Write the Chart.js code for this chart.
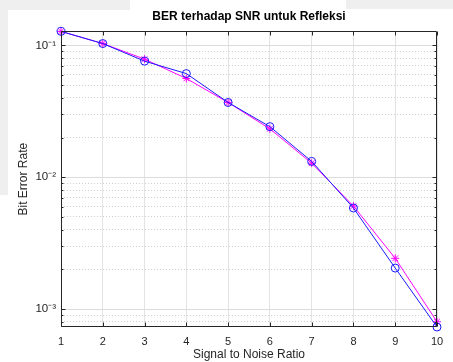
<!DOCTYPE html>
<html>
<head>
<meta charset="utf-8">
<script src="https://cdn.jsdelivr.net/npm/chart.js@4"></script>
<style>
  html, body { margin: 0; padding: 0; background: #fff; }
  #wrap { position: relative; width: 453px; height: 362px; }
  .patch { position: absolute; background: #efefef; }
  canvas { position: absolute; left: 0; top: 0; }
</style>
</head>
<body>
<div id="wrap">
  <div class="patch" style="left:0;top:0;width:130px;height:10px"></div>
  <div class="patch" style="left:0;top:0;width:8px;height:195px"></div>
  <div class="patch" style="left:346px;top:0;width:107px;height:9px"></div>
  <canvas id="c" width="453" height="362"></canvas>
</div>
<script>
// data
let snr = [1, 2, 3, 4, 5, 6, 7, 8, 9, 10];
let berBlue = [0.1276, 0.1032, 0.0759, 0.0611, 0.0369, 0.0242, 0.0132, 0.00585, 0.00205, 0.000733];
let berMagenta = [0.1276, 0.1032, 0.0786, 0.0561, 0.0369, 0.0233, 0.0128, 0.00605, 0.00243, 0.000803];

let yMin = 0.000733;
let yMax = 0.1276;
let majorTicks = [0.001, 0.01, 0.1];
let minorTicks = [0.0008, 0.0009,
  0.002, 0.003, 0.004, 0.005, 0.006, 0.007, 0.008, 0.009,
  0.02, 0.03, 0.04, 0.05, 0.06, 0.07, 0.08, 0.09];
let supers = { '-1': '⁻¹', '-2': '⁻²', '-3': '⁻³' };

let axisColor = '#262626';
let fontFam = "'Liberation Sans', Arial, sans-serif";

// box + inward ticks like matlab
let frame = {
  id: 'frame',
  afterDraw(chart) {
    let ctx = chart.ctx, a = chart.chartArea;
    let l = Math.round(a.left) + 0.5, r = Math.round(a.right) - 0.5;
    let t = Math.round(a.top) + 0.5, b = Math.round(a.bottom) - 0.5;
    ctx.save();
    ctx.strokeStyle = axisColor;
    ctx.lineWidth = 1;
    ctx.beginPath();
    chart.scales.x.ticks.forEach(tk => {
      let px = Math.round(chart.scales.x.getPixelForValue(tk.value)) + 0.5;
      ctx.moveTo(px, b); ctx.lineTo(px, b - 4);
      ctx.moveTo(px, t); ctx.lineTo(px, t + 4);
    });
    majorTicks.forEach(v => {
      let py = Math.round(chart.scales.y.getPixelForValue(v)) + 0.5;
      ctx.moveTo(l, py); ctx.lineTo(l + 4, py);
      ctx.moveTo(r, py); ctx.lineTo(r - 4, py);
    });
    minorTicks.forEach(v => {
      let py = Math.round(chart.scales.y.getPixelForValue(v)) + 0.5;
      ctx.moveTo(l, py); ctx.lineTo(l + 2, py);
      ctx.moveTo(r, py); ctx.lineTo(r - 2, py);
    });
    ctx.rect(l, t, r - l, b - t);
    ctx.stroke();
    ctx.restore();
  }
};

new Chart(document.getElementById('c'), {
  type: 'line',
  data: {
    labels: snr,
    datasets: [
      {
        data: berBlue,
        borderColor: '#1a1aff',
        borderWidth: 1,
        pointStyle: 'circle',
        pointRadius: 4,
        pointBorderColor: '#1a1aff',
        pointBackgroundColor: 'rgba(0,0,0,0)',
        pointBorderWidth: 1,
        tension: 0
      },
      {
        data: berMagenta,
        borderColor: '#ff00ff',
        borderWidth: 1,
        pointStyle: 'star',
        pointRadius: 4,
        pointBorderColor: '#ff00ff',
        pointBackgroundColor: 'rgba(0,0,0,0)',
        pointBorderWidth: 1,
        tension: 0
      }
    ]
  },
  options: {
    responsive: false,
    animation: false,
    devicePixelRatio: 1,
    clip: false,
    layout: { padding: { left: 0, right: 16, top: 0, bottom: 0 } },
    plugins: {
      legend: { display: false },
      tooltip: { enabled: false },
      title: {
        display: true,
        fullSize: false,
        text: 'BER terhadap SNR untuk Refleksi',
        color: '#000',
        font: { family: fontFam, size: 12, weight: 'bold' },
        padding: { top: 9, bottom: 8 }
      }
    },
    scales: {
      x: {
        type: 'linear',
        min: 1,
        max: 10,
        ticks: {
          stepSize: 1,
          color: axisColor,
          font: { family: fontFam, size: 11 },
          padding: 8
        },
        grid: { color: '#e3e3e3', drawTicks: false },
        border: { display: false },
        title: {
          display: true,
          text: 'Signal to Noise Ratio',
          color: axisColor,
          font: { family: fontFam, size: 12 },
          padding: { top: 1, bottom: 0 }
        },
        afterFit(s) { s.height = 35; }
      },
      y: {
        type: 'logarithmic',
        min: yMin,
        max: yMax,
        afterBuildTicks(s) { s.ticks = majorTicks.map(v => ({ value: v })); },
        ticks: {
          color: axisColor,
          font: { family: fontFam, size: 11.5 },
          padding: 5,
          callback: v => '10' + supers[String(Math.round(Math.log10(v)))]
        },
        grid: { color: '#dcdcdc', drawTicks: false },
        border: { display: false },
        title: {
          display: true,
          text: 'Bit Error Rate',
          color: axisColor,
          font: { family: fontFam, size: 12 },
          padding: { top: 16, bottom: 4 }
        },
        afterFit(s) { s.width = 61; }
      },
      yMinor: {
        type: 'logarithmic',
        position: 'left',
        min: yMin,
        max: yMax,
        afterBuildTicks(s) { s.ticks = minorTicks.map(v => ({ value: v })); },
        ticks: { display: false },
        grid: { color: '#cfcfcf', drawTicks: false },
        border: { display: false, dash: [1, 2] },
        afterFit(s) { s.width = 0; }
      }
    }
  },
  plugins: [frame]
});
</script>
</body>
</html>
